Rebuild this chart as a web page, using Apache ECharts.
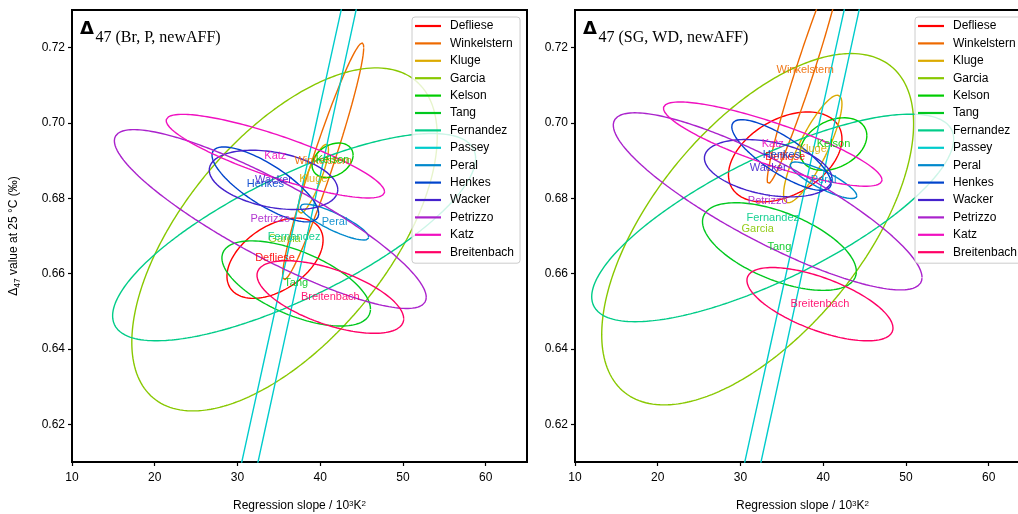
<!DOCTYPE html>
<html>
<head>
<meta charset="utf-8">
<script src="https://cdn.jsdelivr.net/npm/echarts@6/dist/echarts.min.js"></script>
<style>
  html, body { margin: 0; padding: 0; background: #fff; }
  #chart { width: 1018px; height: 514px; }
</style>
</head>
<body>
<div id="chart"></div>
<script>
// labs, in legend order
const labs = ["Defliese", "Winkelstern", "Kluge", "Garcia", "Kelson", "Tang", "Fernandez",
  "Passey", "Peral", "Henkes", "Wacker", "Petrizzo", "Katz", "Breitenbach"];
const colors = ["#ff0000", "#ee6a00", "#dcaa00", "#88c800", "#00cc00", "#00c81e", "#00cc88",
  "#00cccc", "#0088cc", "#0044cc", "#4422cc", "#aa22cc", "#f010c0", "#ff0066"];

// panel 1: Br, P, newAFF  (center, half extents, correlation)
const slopeBrP = [34.54, 40.36, 39.18, 35.69, 41.50, 37.10, 36.85, 22.55, 41.74, 33.37, 34.36, 33.97, 34.58, 41.23];
const d47BrP   = [0.6641, 0.6898, 0.6852, 0.6691, 0.6901, 0.6574, 0.6697, 0.52, 0.6737, 0.6837, 0.6849, 0.6745, 0.6912, 0.6538];
const sxBrP    = [5.81, 4.90, 1.82, 18.46, 2.48, 8.98, 21.94, 49.75, 4.14, 6.45, 7.77, 18.85, 13.2, 8.87];
const syBrP    = [0.01065, 0.03146, 0.00915, 0.04553, 0.00459, 0.01131, 0.02751, 0.50, 0.00477, 0.00995, 0.00786, 0.02374, 0.0111, 0.00963];
const rhoBrP   = [0.45, 0.96, 0.85, 0.60, 0.30, -0.60, 0.76, 0.9998, -0.85, -0.78, -0.33, -0.875, -0.85, -0.60];

// panel 2: SG, WD, newAFF
const slopeSG = [35.41, 37.83, 38.74, 32.08, 41.25, 34.71, 33.90, 22.55, 40.04, 34.96, 33.35, 33.29, 33.90, 39.61];
const d47SG   = [0.6910, 0.7142, 0.6931, 0.6718, 0.6944, 0.6672, 0.6748, 0.52, 0.6848, 0.6915, 0.6880, 0.6792, 0.6944, 0.6519];
const sxSG    = [6.86, 4.59, 3.53, 18.85, 4.03, 9.30, 21.88, 49.75, 4.03, 6.01, 7.71, 18.66, 13.21, 8.83];
const sySG    = [0.01194, 0.03032, 0.01428, 0.04664, 0.00699, 0.01163, 0.02755, 0.50, 0.00485, 0.00938, 0.00761, 0.02351, 0.01118, 0.00973];
const rhoSG   = [0.40, 0.968, 0.84, 0.60, 0.32, -0.57, 0.76, 0.9998, -0.85, -0.80, -0.35, -0.86, -0.85, -0.65];

const xTicks = [10, 20, 30, 40, 50, 60];
const yTicks = [0.62, 0.64, 0.66, 0.68, 0.70, 0.72];
const xMin = 10, xMax = 65, yMin = 0.61, yMax = 0.73;

// outline of the confidence ellipse
function outline(cx, cy, sx, sy, r) {
  const pts = [];
  const n = 400;
  const q = Math.sqrt(1 - r * r);
  for (let i = 0; i <= n; i++) {
    const t = 2 * Math.PI * i / n;
    pts.push([cx + sx * Math.cos(t), cy + sy * (r * Math.cos(t) + q * Math.sin(t))]);
  }
  return pts;
}

const font = "Liberation Sans, Arial, sans-serif";

function panelSeries(idx, cxs, cys, sxs, sys, rhos) {
  const out = labs.map((lab, i) => ({
    name: lab,
    type: "line",
    xAxisIndex: idx,
    yAxisIndex: idx,
    data: outline(cxs[i], cys[i], sxs[i], sys[i], rhos[i]),
    showSymbol: false,
    symbol: "none",
    clip: true,
    lineStyle: { color: colors[i], width: 1.4 },
    itemStyle: { color: colors[i] },
    z: 2
  }));
  const tags = [];
  labs.forEach((lab, i) => {
    if (cxs[i] > xMin && cxs[i] < xMax && cys[i] > yMin && cys[i] < yMax) {
      tags.push({ name: lab, value: [cxs[i], cys[i]], label: { color: colors[i] } });
    }
  });
  out.push({
    type: "scatter",
    xAxisIndex: idx,
    yAxisIndex: idx,
    symbolSize: 0,
    data: tags,
    silent: true,
    z: 5,
    label: { show: true, position: "inside", formatter: "{b}", fontSize: 11,
      fontFamily: font, opacity: 0.9 }
  });
  return out;
}

function makeX(idx) {
  return {
    type: "value", gridIndex: idx, min: xMin, max: xMax,
    name: "Regression slope / 10{sup|3}K{sup|2}",
    nameLocation: "middle", nameGap: 38,
    nameTextStyle: {
      fontSize: 12, fontFamily: font, color: "#000",
      rich: { sup: { fontSize: 8, verticalAlign: "top", lineHeight: 8, fontFamily: font, color: "#000" } }
    },
    axisLine: { show: true, lineStyle: { color: "#000", width: 2 } },
    axisTick: { show: true, inside: false, length: 4, customValues: xTicks, lineStyle: { color: "#000", width: 1.2 } },
    axisLabel: { customValues: xTicks, fontSize: 12, fontFamily: font, color: "#000", margin: 10 },
    splitLine: { show: false }
  };
}

function makeY(idx, withName) {
  const y = {
    type: "value", gridIndex: idx, min: yMin, max: yMax,
    axisLine: { show: true, lineStyle: { color: "#000", width: 2 } },
    axisTick: { show: true, inside: false, length: 4, customValues: yTicks, lineStyle: { color: "#000", width: 1.2 } },
    axisLabel: { customValues: yTicks, fontSize: 12, fontFamily: font, color: "#000", margin: 7,
      formatter: v => v.toFixed(2) },
    splitLine: { show: false }
  };
  if (withName) {
    y.name = "{n|Δ}{sub|47}{n| value at 25 °C (‰)}";
    y.nameLocation = "middle";
    y.nameRotate = 90;
    y.nameGap = 50;
    y.nameTextStyle = {
      rich: {
        n: { fontSize: 12, fontFamily: font, color: "#000", lineHeight: 17, verticalAlign: "middle" },
        sub: { fontSize: 8.5, fontFamily: font, color: "#000", lineHeight: 9, verticalAlign: "bottom" }
      }
    };
  }
  return y;
}

function makeLegend(left) {
  return {
    data: labs,
    orient: "vertical",
    left: left, top: 17,
    padding: [2, 6, 4, 3],
    itemWidth: 26, itemHeight: 2.2, itemGap: 3.4,
    icon: "rect",
    backgroundColor: "rgba(255,255,255,0.8)",
    borderColor: "#cccccc", borderWidth: 1, borderRadius: 3,
    textStyle: { fontSize: 12, fontFamily: font, color: "#000", lineHeight: 14, padding: [0, 0, 0, 4] },
    selectedMode: false,
    z: 10
  };
}

function title(x, rest) {
  return [
    { type: "text", left: x, top: 20, z: 20,
      style: { text: "Δ", font: "bold 18px DejaVu Sans", fill: "#000" } },
    { type: "text", left: x + 15.5, top: 30, z: 20,
      style: { text: "47 " + rest, font: "16px Liberation Serif", fill: "#000" } }
  ];
}

const chart = echarts.init(document.getElementById("chart"), null, { renderer: "canvas" });
chart.setOption({
  animation: false,
  backgroundColor: "#fff",
  grid: [
    { left: 72, top: 10, width: 455, height: 452, outerBoundsMode: "none", containLabel: false,
      show: true, borderColor: "#000", borderWidth: 2, backgroundColor: "transparent" },
    { left: 575, top: 10, width: 455, height: 452, outerBoundsMode: "none", containLabel: false,
      show: true, borderColor: "#000", borderWidth: 2, backgroundColor: "transparent" }
  ],
  xAxis: [makeX(0), makeX(1)],
  yAxis: [makeY(0, true), makeY(1, false)],
  legend: [makeLegend(412), makeLegend(915)],
  graphic: title(80, "(Br, P, newAFF)").concat(title(583, "(SG, WD, newAFF)")),
  series: panelSeries(0, slopeBrP, d47BrP, sxBrP, syBrP, rhoBrP)
    .concat(panelSeries(1, slopeSG, d47SG, sxSG, sySG, rhoSG))
});
</script>
</body>
</html>
